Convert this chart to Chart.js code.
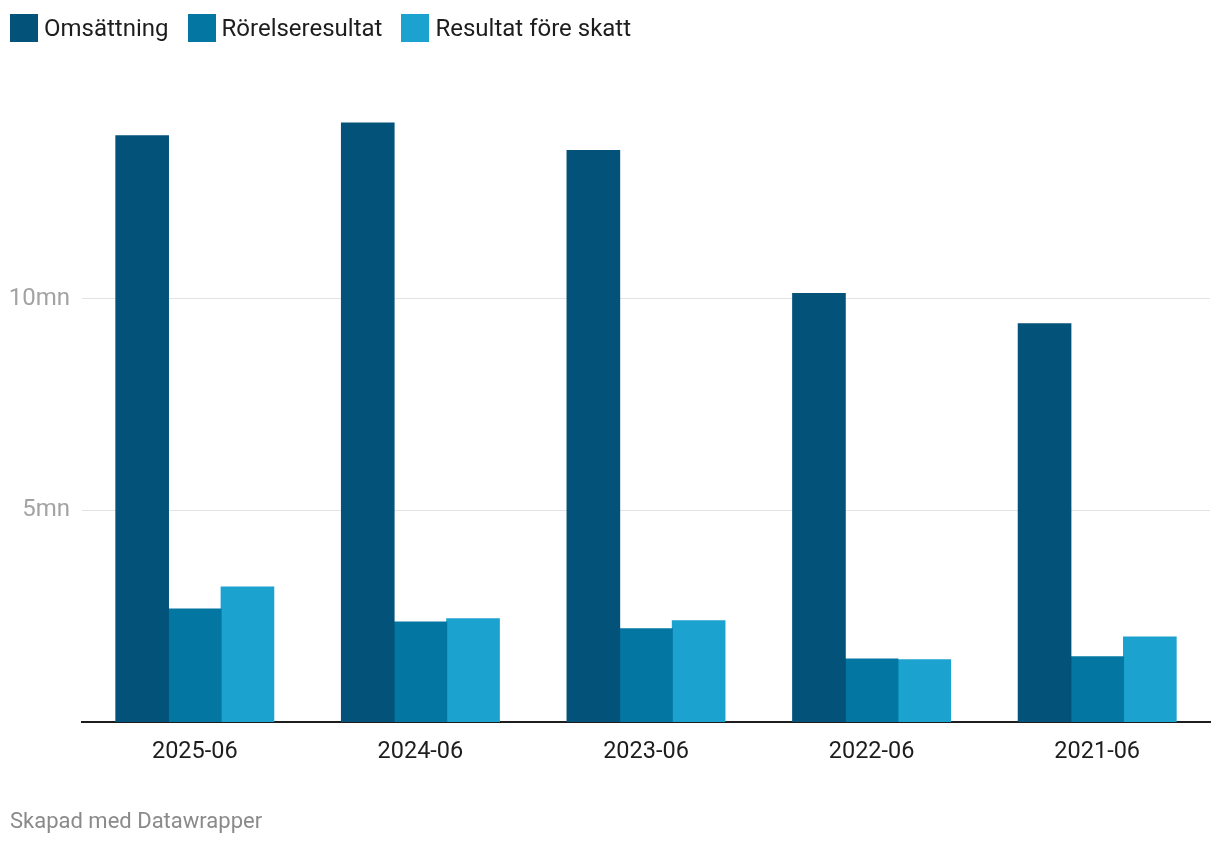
<!DOCTYPE html>
<html lang="sv">
<head>
<meta charset="utf-8">
<script src="https://cdn.jsdelivr.net/npm/chart.js@4/dist/chart.umd.min.js"></script>
<style>
    html, body { margin: 0; padding: 0; background: #fff; }
    .wrap { position: relative; width: 1220px; height: 844px; font-family: Roboto, sans-serif; }
    canvas { position: absolute; left: 0; top: 0; }
    .legend { position: absolute; left: 10px; top: 14px; display: flex; gap: 19px; }
    .legend .item { display: flex; align-items: center; gap: 6px; font-size: 24px; color: #1d1d1d; line-height: 28px; }
    .legend .sw { width: 28px; height: 28px; }
    .credit {
        position: absolute; left: 10px; top: 808px;
        font-size: 22px; color: #8a8a8a;
    }
</style>
</head>
<body>
<div class="wrap">
    <canvas id="chart" width="1220" height="844"></canvas>
    <div class="legend" id="legend"></div>
    <div class="credit">Skapad med Datawrapper</div>
</div>
<script>
// ── data (miljoner) ───────────────────────────────────
const periods = ['2025-06', '2024-06', '2023-06', '2022-06', '2021-06'];
const omsattning = [13.85, 14.15, 13.5, 10.12, 9.41];
const rorelseresultat = [2.67, 2.36, 2.2, 1.49, 1.54];
const resultatForeSkatt = [3.19, 2.44, 2.39, 1.47, 2.01];
const yTicks = [5, 10];

const seriesNames = ['Omsättning', 'Rörelseresultat', 'Resultat före skatt'];
const seriesColours = ['#025279', '#0377a2', '#1ba2cf'];

Chart.defaults.font.family = 'Roboto, sans-serif';
Chart.defaults.animation = false;

// ── legend ────────────────────────────────────────────
document.getElementById('legend').innerHTML = seriesNames.map((n, i) =>
    `<div class="item"><span class="sw" style="background:${seriesColours[i]}"></span>${n}</div>`
).join('');

// ── bar chart ─────────────────────────────────────────
new Chart(document.getElementById('chart'), {
    type: 'bar',
    data: {
        labels: periods,
        datasets: [omsattning, rorelseresultat, resultatForeSkatt].map((d, i) => ({
            label: seriesNames[i],
            data: d,
            backgroundColor: seriesColours[i],
            borderWidth: 0,
            inflateAmount: 0.5,
            categoryPercentage: 0.7,
            barPercentage: 1
        }))
    },
    options: {
        responsive: false,
        layout: { padding: { left: 10, right: 10, top: 87, bottom: 0 } },
        plugins: {
            legend: { display: false },
            tooltip: { enabled: false }
        },
        scales: {
            x: {
                grid: { display: false },
                border: { color: '#1d1d1d', width: 2 },
                ticks: { color: '#1d1d1d', font: { size: 23.5 }, padding: 8 },
                afterFit: s => { s.height = 122; }
            },
            y: {
                min: 0,
                max: 15,
                afterBuildTicks: s => { s.ticks = [0, ...yTicks].map(v => ({ value: v })); },
                border: { display: false },
                grid: {
                    drawTicks: false,
                    color: ctx => yTicks.includes(ctx.tick && ctx.tick.value) ? '#e3e3e3' : 'rgba(0,0,0,0)'
                },
                ticks: {
                    crossAlign: 'near',
                    padding: 12,
                    color: '#a3a3a3',
                    font: { size: 24 },
                    callback: v => v === 0 ? '' : v + 'mn'
                },
                afterFit: s => { s.width = 72; }
            }
        }
    }
});
</script>
</body>
</html>
